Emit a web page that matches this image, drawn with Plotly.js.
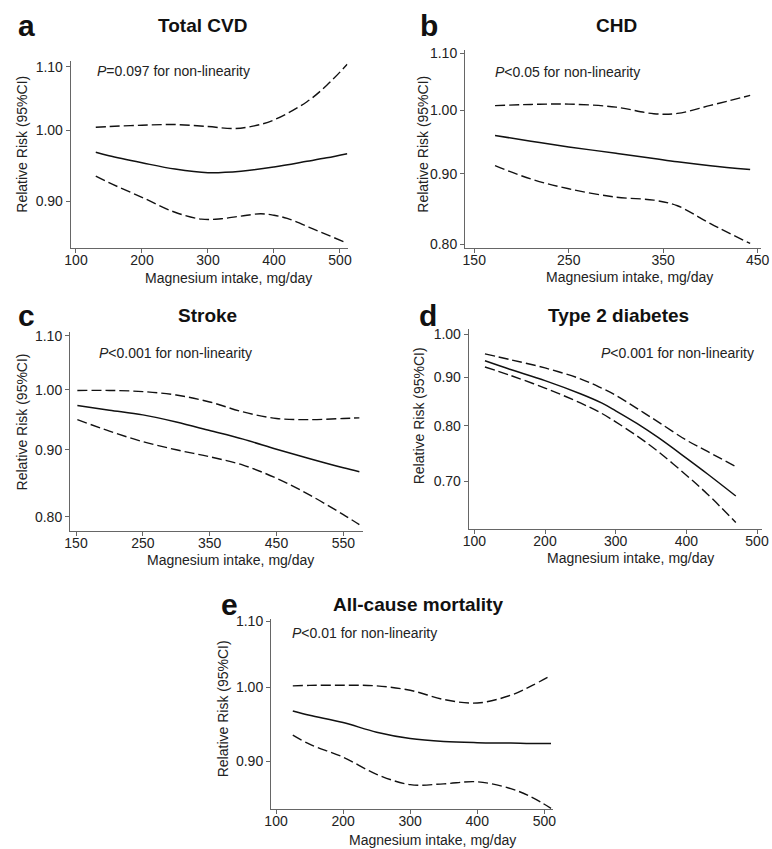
<!DOCTYPE html>
<html>
<head>
<meta charset="utf-8">
<script src="https://cdn.plot.ly/plotly-3.0.1.min.js"></script>
<style>html,body{margin:0;padding:0;background:#fff}#chart{width:772px;height:849px}</style>
</head>
<body>
<div id="chart"></div>
<script>
// ---- Data ----
// a: Total CVD
const cvdX     = [130, 150, 200, 250, 300, 350, 400, 450, 480, 511];
const cvdRR    = [0.968, 0.963, 0.953, 0.944, 0.939, 0.941, 0.947, 0.955, 0.960, 0.966];
const cvdUpX   = [130, 150, 200, 250, 300, 340, 370, 400, 450, 480, 511];
const cvdUp    = [1.005, 1.006, 1.008, 1.009, 1.006, 1.003, 1.007, 1.016, 1.044, 1.070, 1.104];
const cvdLoX   = [130, 150, 200, 250, 290, 320, 350, 380, 400, 420, 460, 511];
const cvdLo    = [0.934, 0.925, 0.905, 0.885, 0.876, 0.8765, 0.880, 0.883, 0.881, 0.877, 0.863, 0.845];
// b: CHD
const chdX     = [172, 210, 250, 300, 340, 365, 400, 442];
const chdRR    = [0.959, 0.950, 0.941, 0.931, 0.923, 0.918, 0.912, 0.906];
const chdUp    = [1.008, 1.010, 1.0106, 1.0055, 0.9945, 0.995, 1.0084, 1.0253];
const chdLo    = [0.912, 0.892, 0.8775, 0.8654, 0.861, 0.853, 0.828, 0.801];
// c: Stroke
const strokeX  = [152, 200, 250, 300, 350, 400, 450, 500, 550, 574];
const strokeRR = [0.973, 0.965, 0.957, 0.945, 0.931, 0.917, 0.901, 0.886, 0.872, 0.866];
const strokeUp = [0.999, 0.999, 0.997, 0.991, 0.979, 0.962, 0.951, 0.949, 0.951, 0.952];
const strokeLo = [0.949, 0.930, 0.913, 0.900, 0.889, 0.876, 0.856, 0.831, 0.803, 0.789];
// d: Type 2 diabetes
const t2dX     = [115, 150, 200, 250, 280, 300, 330, 360, 400, 430, 470];
const t2dRR    = [0.937, 0.918, 0.893, 0.865, 0.846, 0.830, 0.805, 0.778, 0.740, 0.712, 0.675];
const t2dUp    = [0.953, 0.940, 0.921, 0.897, 0.877, 0.862, 0.835, 0.808, 0.773, 0.752, 0.725];
const t2dLo    = [0.923, 0.905, 0.877, 0.846, 0.825, 0.808, 0.781, 0.752, 0.710, 0.678, 0.633];
// e: All-cause mortality
const mortX    = [125, 150, 200, 250, 300, 350, 400, 450, 480, 510];
const mortRR   = [0.967, 0.961, 0.951, 0.938, 0.9295, 0.9255, 0.924, 0.9235, 0.923, 0.923];
const mortUp   = [1.0023, 1.003, 1.0033, 1.0023, 0.996, 0.983, 0.978, 0.989, 1.002, 1.0173];
const mortLo   = [0.934, 0.922, 0.905, 0.883, 0.870, 0.871, 0.8736, 0.865, 0.855, 0.841];

const panelLetters = ['a', 'b', 'c', 'd', 'e'];
const panelTitles  = ['Total CVD', 'CHD', 'Stroke', 'Type 2 diabetes', 'All-cause mortality'];
const pNotes = ['<i>P</i>=0.097 for non-linearity', '<i>P</i><0.05 for non-linearity',
                '<i>P</i><0.001 for non-linearity', '<i>P</i><0.001 for non-linearity',
                '<i>P</i><0.01 for non-linearity'];
const xTicks = [[100,200,300,400,500],[150,250,350,450],[150,250,350,450,550],[100,200,300,400,500],[100,200,300,400,500]];
const yTicks = [[0.9,1.0,1.1],[0.8,0.9,1.0,1.1],[0.8,0.9,1.0,1.1],[0.7,0.8,0.9,1.0],[0.9,1.0,1.1]];
const yTickText = yTicks.map(a => a.map(v => v.toFixed(2)));
const xLabel = 'Magnesium intake, mg/day';
const yLabel = 'Relative Risk (95%CI)';

// ---- Layout geometry (pixels) ----
const W = 772, H = 849;
const px = v => v / W, py = v => 1 - v / H;
const boxes = [ // [left, right, top, bottom]
  [70.7, 347.5, 60.7, 248],
  [465, 761, 50, 248],
  [70, 363.3, 331.7, 530.7],
  [468.7, 762.3, 329.3, 529.3],
  [271, 553.3, 619.3, 809.3]
];
const xRanges = [[92, 511.4], [140.2, 453.5], [141, 579.9], [92, 507.5], [92.5, 513.4]];
const yRanges = [[0.839, 1.110], [0.795, 1.106], [0.7806, 1.1078], [0.6226, 1.0115], [0.8398, 1.1027]];

const series = [
  [cvdX, cvdRR, cvdUpX, cvdUp, cvdLoX, cvdLo],
  [chdX, chdRR, chdX, chdUp, chdX, chdLo],
  [strokeX, strokeRR, strokeX, strokeUp, strokeX, strokeLo],
  [t2dX, t2dRR, t2dX, t2dUp, t2dX, t2dLo],
  [mortX, mortRR, mortX, mortUp, mortX, mortLo]
];

const FONT = 'Liberation Sans, Arial, Helvetica, sans-serif';
const traces = [];
const layout = {
  width: W, height: H, margin: {l: 0, r: 0, t: 0, b: 0},
  paper_bgcolor: '#fff', plot_bgcolor: '#fff', showlegend: false,
  font: {family: FONT, color: '#222', size: 14},
  annotations: []
};

series.forEach((s, i) => {
  const n = i === 0 ? '' : String(i + 1);
  const xa = 'x' + n, ya = 'y' + n;
  const [x, rr, ux, up, lx, lo] = s;
  traces.push({x: x, y: rr, xaxis: xa, yaxis: ya, mode: 'lines', line: {color: '#111', width: 1.5, shape: 'spline'}, hoverinfo: 'skip'});
  traces.push({x: ux, y: up, xaxis: xa, yaxis: ya, mode: 'lines', line: {color: '#111', width: 1.4, dash: '10px,4px', shape: 'spline'}, hoverinfo: 'skip'});
  traces.push({x: lx, y: lo, xaxis: xa, yaxis: ya, mode: 'lines', line: {color: '#111', width: 1.4, dash: '10px,4px', shape: 'spline'}, hoverinfo: 'skip'});
  const b = boxes[i];
  const axCommon = {showline: true, linecolor: '#666', linewidth: 1, ticks: 'outside', ticklen: 4, tickwidth: 1, tickcolor: '#666',
                    showgrid: false, zeroline: false, tickfont: {family: FONT, size: 14, color: '#222'}, fixedrange: true};
  layout['xaxis' + n] = Object.assign({}, axCommon, {domain: [px(b[0]), px(b[1])], anchor: ya, range: xRanges[i],
        tickvals: xTicks[i], ticktext: xTicks[i].map(String), ticklabelstandoff: -5});
  layout['yaxis' + n] = Object.assign({}, axCommon, {domain: [py(b[3]), py(b[2])], anchor: xa, type: 'log',
        range: yRanges[i].map(v => Math.log10(v)), tickvals: yTicks[i], ticktext: yTickText[i]});
});

// ---- Text positions (pixels) ----
const letterPos = [[16, 26], [418, 26], [16, 315], [417, 315], [219, 604]];
const titlePos  = [[202, 26], [616, 26], [207, 315], [618, 315], [418, 604]];
const notePos   = [[95, 71, 'left'], [493, 71.7, 'left'], [97, 352.7, 'left'], [756, 352.7, 'right'], [290, 632.7, 'left']];
const xTitlePos = [[228, 277.5], [629, 277], [230.5, 559.5], [630, 558], [432.5, 840]];
const yTitlePos = [[21.7, 144], [422.7, 144], [21.7, 421.7], [419.3, 416], [223.3, 709]];

for (let i = 0; i < 5; i++) {
  layout.annotations.push({xref: 'paper', yref: 'paper', x: px(letterPos[i][0]), y: py(letterPos[i][1]), xanchor: 'left', yanchor: 'middle',
    text: '<b>' + panelLetters[i] + '</b>', showarrow: false, font: {family: FONT, size: 30, color: '#111'}});
  layout.annotations.push({xref: 'paper', yref: 'paper', x: px(titlePos[i][0]), y: py(titlePos[i][1]), xanchor: 'center', yanchor: 'middle',
    text: '<b>' + panelTitles[i] + '</b>', showarrow: false, font: {family: FONT, size: 19, color: '#111'}});
  layout.annotations.push({xref: 'paper', yref: 'paper', x: px(notePos[i][0]), y: py(notePos[i][1]), xanchor: notePos[i][2], yanchor: 'middle',
    text: pNotes[i], showarrow: false, font: {family: FONT, size: 14, color: '#222'}});
  layout.annotations.push({xref: 'paper', yref: 'paper', x: px(xTitlePos[i][0]), y: py(xTitlePos[i][1]), xanchor: 'center', yanchor: 'middle',
    text: xLabel, showarrow: false, font: {family: FONT, size: 14, color: '#222'}});
  layout.annotations.push({xref: 'paper', yref: 'paper', x: px(yTitlePos[i][0]), y: py(yTitlePos[i][1]), xanchor: 'center', yanchor: 'middle',
    text: yLabel, textangle: -90, showarrow: false, font: {family: FONT, size: 14, color: '#222'}});
}

Plotly.newPlot('chart', traces, layout, {staticPlot: true, displayModeBar: false});
</script>
</body>
</html>
